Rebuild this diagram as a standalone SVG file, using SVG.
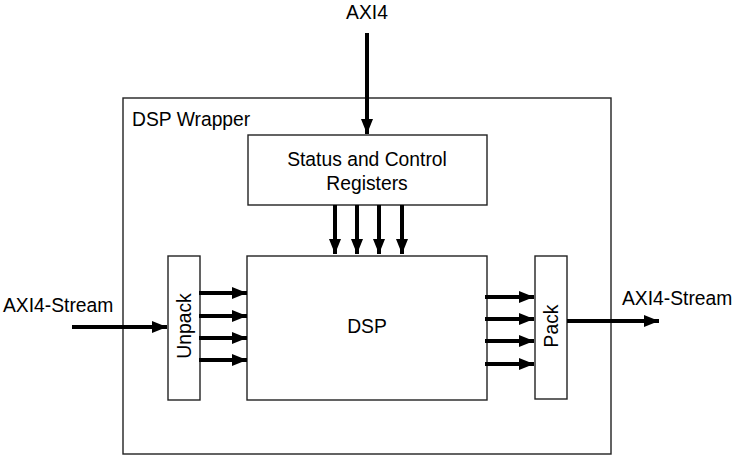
<svg xmlns="http://www.w3.org/2000/svg" width="734" height="457" viewBox="0 0 734 457">
<style>
.box{fill:#fff;stroke:#222;stroke-width:1.4}
.wrap{fill:none;stroke:#222;stroke-width:1.4}
.t{font-family:"Liberation Sans",Arial,sans-serif;font-size:19.3px;fill:#000}
.a{stroke:#000;stroke-width:4;fill:none;marker-end:url(#ah)}
</style>
<defs>
<marker id="ah" markerUnits="userSpaceOnUse" markerWidth="16" markerHeight="14" refX="15" refY="6" orient="auto">
<path d="M0,0 L15,6 L0,12 Z" fill="#000"/>
</marker>
</defs>
<g id="wrapper">
<rect class="wrap" x="123" y="98" width="488" height="356"/>
<text class="t" x="132" y="126">DSP Wrapper</text>
</g>
<g id="status">
<rect class="box" x="248" y="135" width="239" height="70"/>
<text class="t" x="367" y="166" text-anchor="middle">Status and Control</text>
<text class="t" x="367" y="190" text-anchor="middle">Registers</text>
</g>
<g id="dsp">
<rect class="box" x="247" y="256" width="240" height="144"/>
<text class="t" x="367" y="333" text-anchor="middle">DSP</text>
</g>
<g id="unpack">
<rect class="box" x="168" y="256" width="32" height="144"/>
<text class="t" transform="translate(191,326) rotate(-90)" text-anchor="middle">Unpack</text>
</g>
<g id="pack">
<rect class="box" x="535" y="256" width="32" height="143"/>
<text class="t" transform="translate(558,326) rotate(-90)" text-anchor="middle">Pack</text>
</g>
<g id="labels">
<text class="t" x="367" y="19" text-anchor="middle">AXI4</text>
<text class="t" x="3" y="312">AXI4-Stream</text>
<text class="t" x="622" y="305">AXI4-Stream</text>
</g>
<g id="connectors">
<line class="a" x1="367" y1="33" x2="367" y2="134"/>
<line class="a" x1="335" y1="205" x2="335" y2="254"/>
<line class="a" x1="357" y1="205" x2="357" y2="254"/>
<line class="a" x1="379" y1="205" x2="379" y2="254"/>
<line class="a" x1="402" y1="205" x2="402" y2="254"/>
<line class="a" x1="72" y1="327" x2="167" y2="327"/>
<line class="a" x1="199" y1="293" x2="247" y2="293"/>
<line class="a" x1="199" y1="316" x2="247" y2="316"/>
<line class="a" x1="199" y1="338" x2="247" y2="338"/>
<line class="a" x1="199" y1="360" x2="247" y2="360"/>
<line class="a" x1="485" y1="297" x2="534" y2="297"/>
<line class="a" x1="485" y1="319" x2="534" y2="319"/>
<line class="a" x1="485" y1="341" x2="534" y2="341"/>
<line class="a" x1="485" y1="364" x2="534" y2="364"/>
<line class="a" x1="567" y1="321" x2="659" y2="321"/>
</g>
</svg>
